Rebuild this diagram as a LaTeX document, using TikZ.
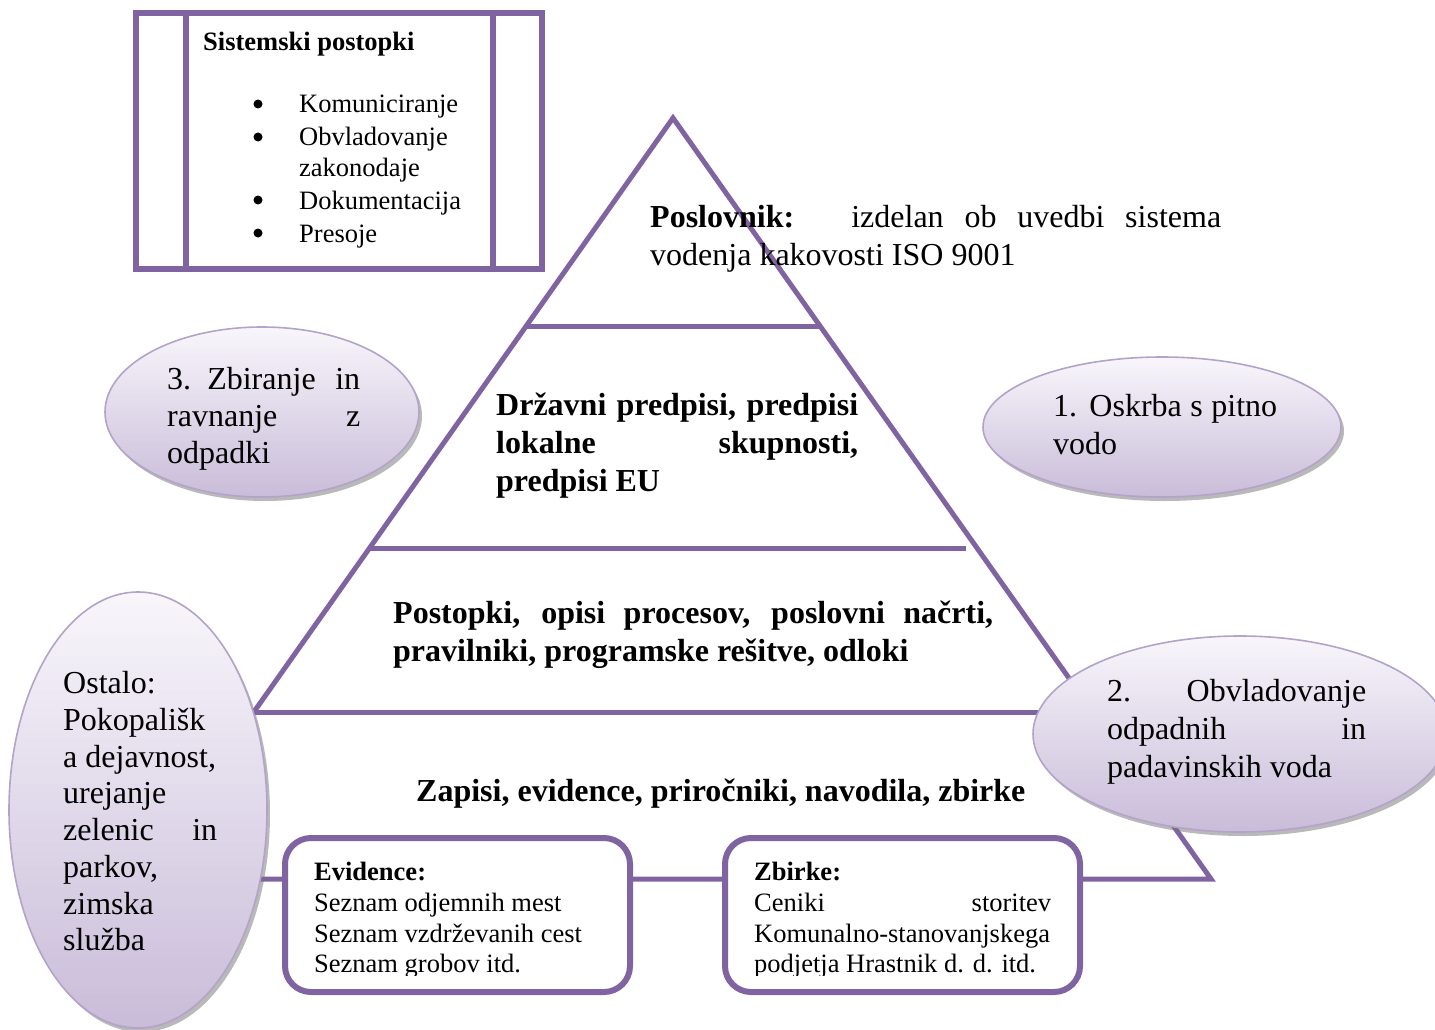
\documentclass[tikz,border=0pt]{standalone}
\usepackage{fontspec}
\setmainfont{Liberation Serif}
\usetikzlibrary{shapes.geometric,shadows}
\definecolor{pur}{HTML}{8064A2}
\definecolor{ellline}{HTML}{B4A3C9}
\definecolor{elltop}{HTML}{F8F6FB}
\definecolor{ellbot}{HTML}{C9BCD9}
\newcommand{\jl}[2]{\makebox[#1pt][s]{#2}}
\begin{document}
\begin{tikzpicture}[x=1pt,y=-1pt,
  big/.style={font=\fontsize{32}{38}\selectfont, inner sep=0pt, anchor=base west},
  bigb/.style={big, font=\fontsize{32}{38}\selectfont\bfseries},
  sml/.style={font=\fontsize{26.5}{31}\selectfont, inner sep=0pt, anchor=base west},
  smlb/.style={sml, font=\fontsize{26.5}{31}\selectfont\bfseries},
  frame/.style={draw=pur, line width=5pt},
  bubble/.style={ellipse, draw=ellline, line width=1.6pt, top color=elltop, bottom color=ellbot, inner sep=0pt,
    drop shadow={shadow xshift=3pt, shadow yshift=-4pt, fill=black!55, opacity=0.5}},
  listbox/.style={draw=pur, line width=6pt, fill=white, inner sep=0pt},
  bul/.style={circle, fill=black, inner sep=0pt, minimum size=9pt},
  ]
\useasboundingbox (0,0) rectangle (1435,1030);

% pyramid
\coordinate (apex) at (673,118);
\coordinate (bl) at (136,879);
\coordinate (br) at (1211,879);
\coordinate (l1) at (526,326);
\coordinate (r1) at (820,326);
\coordinate (l2) at (370,548);
\coordinate (r2) at (966,548);
\coordinate (l3) at (254,712);
\coordinate (r3) at (1091,712);
\draw[frame, line join=miter] (apex) -- (bl) -- (br) -- cycle;
\draw[frame] (l1) -- (r1);
\draw[frame] (l2) -- (r2);
\draw[frame] (l3) -- (r3);

% Sistemski postopki box
\node[listbox, minimum width=406pt, minimum height=256pt] (sys) at (339,141) {};
\coordinate (sysa1) at (186,13);
\coordinate (sysa2) at (186,269);
\coordinate (sysb1) at (493,13);
\coordinate (sysb2) at (493,269);
\draw[draw=pur, line width=6pt] (sysa1) -- (sysa2);
\draw[draw=pur, line width=6pt] (sysb1) -- (sysb2);
\node[smlb] (syst) at (203,51) {Sistemski postopki};
\node[bul] (b1) at (258,104) {};
\node[bul] (b2) at (258,137) {};
\node[bul] (b3) at (258,200) {};
\node[bul] (b4) at (258,233) {};
\node[sml] (s1) at (299,113) {Komuniciranje};
\node[sml] (s2) at (299,146) {Obvladovanje};
\node[sml] (s2b) at (299,176) {zakonodaje};
\node[sml] (s3) at (299,209) {Dokumentacija};
\node[sml] (s4) at (299,242) {Presoje};

% bottom boxes
\node[listbox, rounded corners=26pt, minimum width=345pt, minimum height=154pt] (ev) at (457.5,915) {};
\node[listbox, rounded corners=26pt, minimum width=355pt, minimum height=154pt] (zb) at (902.5,915) {};
\begin{scope}
\clip (290,845) rectangle (1075,975);
\node[smlb] (evt) at (314,880) {Evidence:};
\node[sml] (ev1) at (314,911) {Seznam odjemnih mest};
\node[sml] (ev2) at (314,942) {Seznam vzdrževanih cest};
\node[sml] (ev3) at (314,972) {Seznam grobov itd.};
\node[smlb] (zbt) at (754,880) {Zbirke:};
\node[sml] (zb1) at (754,911) {\jl{297}{Ceniki storitev}};
\node[sml] (zb2) at (754,942) {Komunalno-stanovanjskega};
\node[sml] (zb3) at (754,972) {podjetja Hrastnik d. d. itd.};
\end{scope}

% bubbles
\node[bubble, minimum width=314pt, minimum height=170pt] (e3) at (262,412) {};
\node[bubble, minimum width=358pt, minimum height=140pt] (e1) at (1162,427) {};
\node[bubble, minimum width=414pt, minimum height=196pt] (e2) at (1240,734) {};
\node[bubble, minimum width=258pt, minimum height=436pt] (e4) at (138,810) {};

% bubble texts
\node[big] (e3a) at (167,389) {\jl{193}{3. Zbiranje\ \ in}};
\node[big] (e3b) at (167,426) {\jl{193}{ravnanje z}};
\node[big] (e3c) at (167,463) {odpadki};

\node[big] (e1a) at (1053,416) {\jl{224}{1. Oskrba s pitno}};
\node[big] (e1b) at (1053,454) {vodo};

\node[big] (e2a) at (1107,701) {\jl{259}{2. Obvladovanje}};
\node[big] (e2b) at (1107,739) {\jl{259}{odpadnih in}};
\node[big] (e2c) at (1107,777) {padavinskih voda};

\node[big] (e4a) at (63,693) {Ostalo:};
\node[big] (e4b) at (63,730) {Pokopališk};
\node[big] (e4c) at (63,767) {a dejavnost,};
\node[big] (e4d) at (63,803) {urejanje};
\node[big] (e4e) at (63,840) {\jl{154}{zelenic in}};
\node[big] (e4f) at (63,877) {parkov,};
\node[big] (e4g) at (63,914) {zimska};
\node[big] (e4h) at (63,950) {služba};

% pyramid texts
\node[big] (pa) at (650,227) {\jl{571}{\textbf{Poslovnik:} \ izdelan ob uvedbi sistema}};
\node[big] (pb) at (650,265) {vodenja kakovosti ISO 9001};

\node[bigb] (da) at (496,415) {\jl{362}{Državni predpisi, predpisi}};
\node[bigb] (db) at (496,453) {\jl{362}{lokalne skupnosti,}};
\node[bigb] (dc) at (496,491) {predpisi EU};

\node[bigb] (ta) at (393,623) {\jl{600}{Postopki, opisi procesov, poslovni načrti,}};
\node[bigb] (tb) at (393,661) {pravilniki, programske rešitve, odloki};

\node[bigb] (za) at (416,801) {Zapisi, evidence, priročniki, navodila, zbirke};
\end{tikzpicture}
\end{document}
